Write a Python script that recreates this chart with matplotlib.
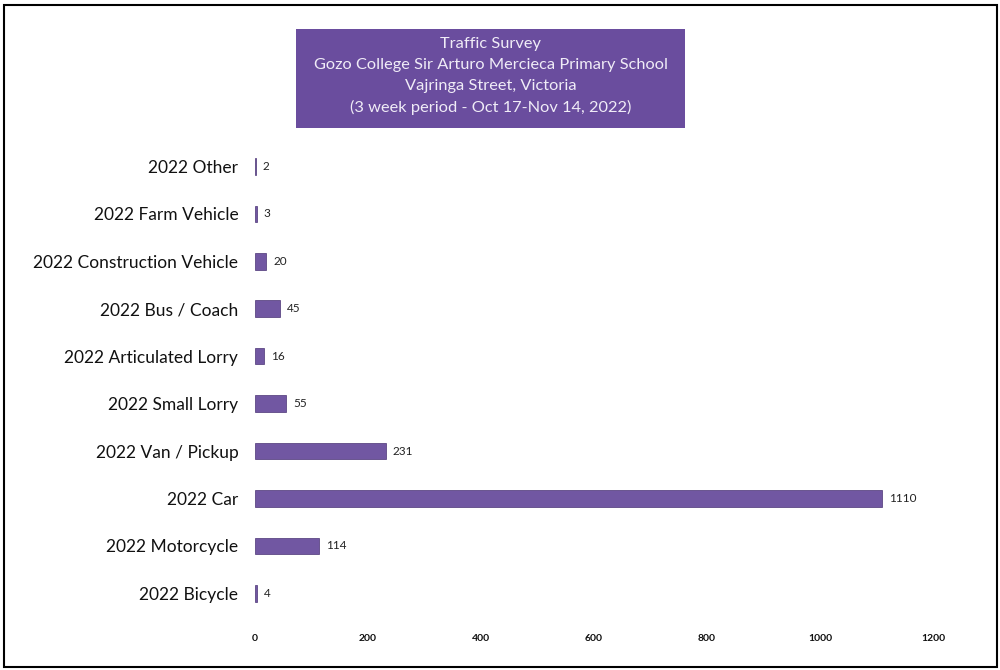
import matplotlib
matplotlib.use("Agg")
import matplotlib.pyplot as plt
from matplotlib.patches import Rectangle

# Data
categories = ["2022 Bicycle", "2022 Motorcycle", "2022 Car", "2022 Van / Pickup",
              "2022 Small Lorry", "2022 Articulated Lorry", "2022 Bus / Coach",
              "2022 Construction Vehicle", "2022 Farm Vehicle", "2022 Other"]
counts = [4, 114, 1110, 231, 55, 16, 45, 20, 3, 2]
x_ticks = [0, 200, 400, 600, 800, 1000, 1200]

title_lines = ["Traffic Survey",
               "Gozo College Sir Arturo Mercieca Primary School",
               "Vajringa Street, Victoria",
               "(3 week period - Oct 17-Nov 14, 2022)"]

bar_color = "#7157a2"
box_color = "#6a4d9e"

plt.rcParams['font.family'] = ['Lato', 'DejaVu Sans']

fig = plt.figure(figsize=(10, 6.7), dpi=100)
fig.patch.set_facecolor("white")
ax = fig.add_axes([0.255, 0.079, 0.678, 0.708])

ypos = list(range(len(categories)))
ax.barh(ypos, counts, height=0.35, color=bar_color, edgecolor="#4b3475", linewidth=0.5)
for y, v in zip(ypos, counts):
    ax.text(v + 12, y, str(v), va="center", ha="left", fontsize=8.5, color="#222222")

ax.set_xlim(0, 1200)
ax.set_ylim(-0.5, len(categories) - 0.5)
ax.set_yticks(ypos)
ax.set_yticklabels(categories, fontsize=12.5, color="#111111")
ax.set_xticks(x_ticks)
ax.set_xticklabels([str(t) for t in x_ticks], fontsize=7.5, fontweight="bold", color="#111111")
ax.tick_params(axis="both", length=0)
ax.tick_params(axis="y", pad=12)
ax.tick_params(axis="x", pad=12)
for s in ax.spines.values():
    s.set_visible(False)

# title box
fig.patches.append(Rectangle((0.296, 1 - 128 / 670), 0.389, 99 / 670,
                             transform=fig.transFigure, facecolor=box_color,
                             edgecolor="none", zorder=0))
fig.text(0.4905, 1 - 76 / 670, "\n".join(title_lines), ha="center", va="center",
         fontsize=11.8, color="#f0ecf7", linespacing=1.62)

# border around the whole picture
fig.patches.append(Rectangle((0.004, 0.005), 0.993, 0.988, transform=fig.transFigure,
                             facecolor="none", edgecolor="black", linewidth=1.5))

fig.savefig("out.png", dpi=100)
